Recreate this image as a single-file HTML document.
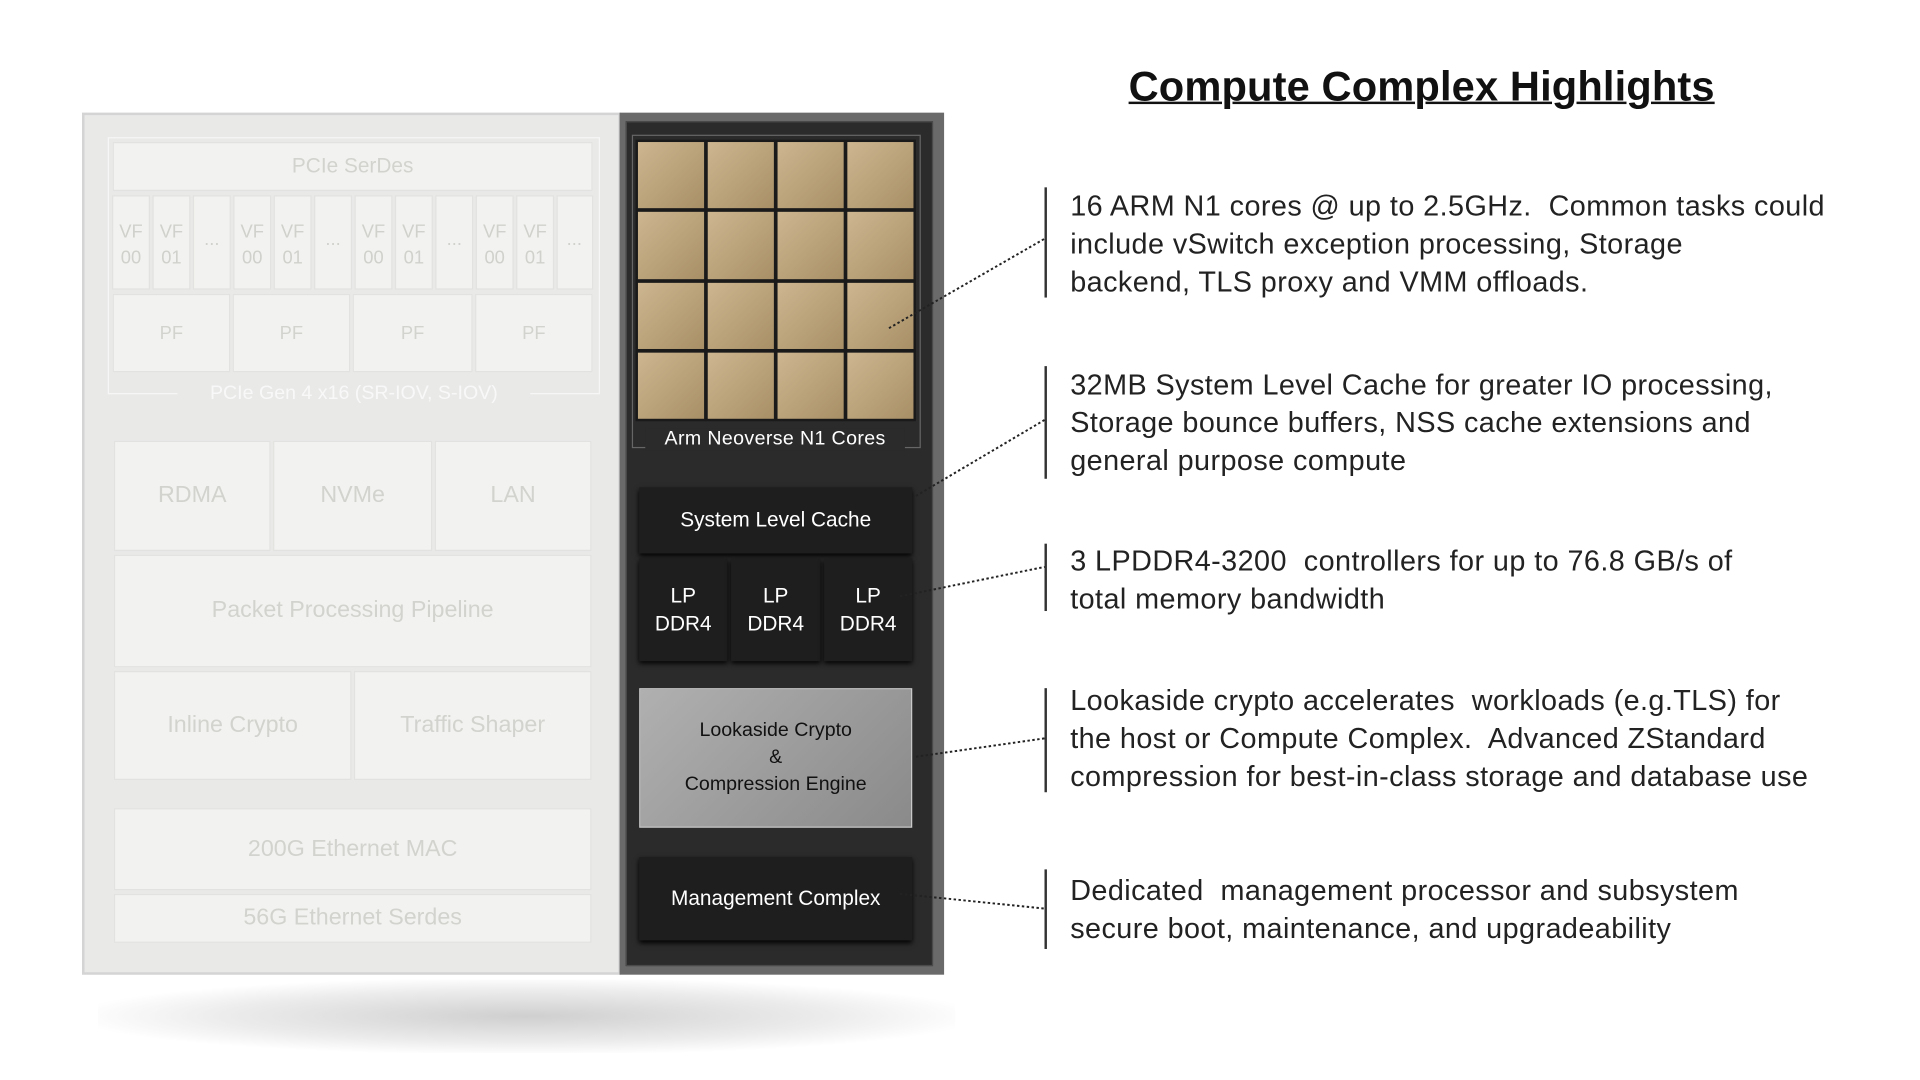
<!DOCTYPE html>
<html><head><style>
html,body{margin:0;padding:0;background:#fff;width:1920px;height:1080px;overflow:hidden}
#s{position:absolute;left:0;top:0;width:1568px;height:882px;transform:scale(1.22449);transform-origin:0 0;font-family:"Liberation Sans",sans-serif}
.a{position:absolute;box-sizing:border-box}
.f{background:#f2f2f0;color:#d2d2ce;display:flex;align-items:center;justify-content:center;text-align:center;font-size:19px;border:1px solid #e2e2e0}
.d{background:#1e1e1e;color:#fff;display:flex;align-items:center;justify-content:center;text-align:center;font-size:17px;box-shadow:0 2px 4px #000}
.t{position:absolute;left:874px;font-size:23.5px;line-height:31px;color:#222;letter-spacing:0.35px;white-space:nowrap}
.v{position:absolute;left:853px;width:1.5px;background:#333}
.g{background:linear-gradient(135deg,#cdb690,#a88f66);}
</style></head><body><div id="s">
<div class="a" style="left:80px;top:800px;width:700px;height:60px;background:radial-gradient(ellipse at center,#cfcfcf 0%,#ececec 50%,#fff 75%)"></div>
<div class="a" style="left:67px;top:92px;width:440px;height:704px;background:#e9e9e8;border:2px solid #d4d4d4"></div>
<div class="a" style="left:88px;top:112px;width:402px;height:210px;border:1px solid #f6f6f6"></div>
<div class="a f" style="left:92px;top:116px;width:392px;height:40px;font-size:17px">PCIe SerDes</div>
<div class="a f" style="left:92px;top:240px;width:96px;height:64px;font-size:15px">PF</div>
<div class="a f" style="left:190px;top:240px;width:96px;height:64px;font-size:15px">PF</div>
<div class="a f" style="left:288px;top:240px;width:98px;height:64px;font-size:15px">PF</div>
<div class="a f" style="left:388px;top:240px;width:96px;height:64px;font-size:15px">PF</div>
<div class="a" style="left:145px;top:313px;width:288px;text-align:center;background:#e9e9e8;color:#f8f8f8;font-size:16px">PCIe Gen 4 x16 (SR-IOV, S-IOV)</div>
<div class="a f" style="left:93px;top:360px;width:128px;height:90px">RDMA</div>
<div class="a f" style="left:223px;top:360px;width:130px;height:90px">NVMe</div>
<div class="a f" style="left:355px;top:360px;width:128px;height:90px">LAN</div>
<div class="a f" style="left:93px;top:453px;width:390px;height:92px">Packet Processing Pipeline</div>
<div class="a f" style="left:93px;top:548px;width:194px;height:89px">Inline Crypto</div>
<div class="a f" style="left:289px;top:548px;width:194px;height:89px">Traffic Shaper</div>
<div class="a f" style="left:93px;top:660px;width:390px;height:67px">200G Ethernet MAC</div>
<div class="a f" style="left:93px;top:730px;width:390px;height:40px">56G Ethernet Serdes</div>

<div class="a" style="left:506px;top:92px;width:265px;height:704px;background:#6a6a6a"></div>
<div class="a" style="left:511px;top:99px;width:251px;height:690px;background:#2b2b2b;border:1px solid #4a4a4a"></div>
<div class="a" style="left:516px;top:110px;width:236px;height:256px;border:1px solid #666"></div>
<div class="a" style="left:519px;top:114px;width:229px;height:230px;display:grid;grid-template-columns:repeat(4,1fr);gap:3px;background:#1a1a1a;padding:2px;box-sizing:border-box">
<div class="g"></div><div class="g"></div><div class="g"></div><div class="g"></div>
<div class="g"></div><div class="g"></div><div class="g"></div><div class="g"></div>
<div class="g"></div><div class="g"></div><div class="g"></div><div class="g"></div>
<div class="g"></div><div class="g"></div><div class="g"></div><div class="g"></div>
</div>
<div class="a" style="left:527px;top:350px;width:212px;text-align:center;background:#2b2b2b;color:#fff;font-size:16px;letter-spacing:0.3px">Arm Neoverse N1 Cores</div>
<div class="a d" style="left:522px;top:398px;width:223px;height:54px">System Level Cache</div>
<div class="a d" style="left:522px;top:456px;width:72px;height:84px;line-height:23px">LP<br>DDR4</div>
<div class="a d" style="left:597px;top:456px;width:73px;height:84px;line-height:23px">LP<br>DDR4</div>
<div class="a d" style="left:673px;top:456px;width:72px;height:84px;line-height:23px">LP<br>DDR4</div>
<div class="a" style="left:522px;top:562px;width:223px;height:114px;background:linear-gradient(135deg,#b0b0b0,#8a8a8a);color:#111;display:flex;align-items:center;justify-content:center;text-align:center;font-size:16px;line-height:22px;border:1px solid #ccc">Lookaside Crypto<br>&amp;<br>Compression Engine</div>
<div class="a d" style="left:522px;top:700px;width:223px;height:68px">Management Complex</div>

<div class="a" style="left:919px;top:52px;width:484px;text-align:center;font-size:34px;font-weight:bold;color:#111;text-decoration:underline;letter-spacing:0.1px;text-decoration-thickness:2px;white-space:nowrap">Compute Complex Highlights</div>

<div class="v" style="top:153px;height:90px"></div>
<div class="t" style="top:153px">16 ARM N1 cores @ up to 2.5GHz.&nbsp; Common tasks could<br>include vSwitch exception processing, Storage<br>backend, TLS proxy and VMM offloads.</div>
<div class="v" style="top:299px;height:92px"></div>
<div class="t" style="top:299px">32MB System Level Cache for greater IO processing,<br>Storage bounce buffers, NSS cache extensions and<br>general purpose compute</div>
<div class="v" style="top:444px;height:55px"></div>
<div class="t" style="top:443px">3 LPDDR4-3200&nbsp; controllers for up to 76.8 GB/s of<br>total memory bandwidth</div>
<div class="v" style="top:562px;height:85px"></div>
<div class="t" style="top:557px">Lookaside crypto accelerates&nbsp; workloads (e.g.TLS) for<br>the host or Compute Complex.&nbsp; Advanced ZStandard<br>compression for best-in-class storage and database use</div>
<div class="v" style="top:710px;height:65px"></div>
<div class="t" style="top:712px">Dedicated&nbsp; management processor and subsystem<br>secure boot, maintenance, and upgradeability</div>

<svg class="a" style="left:0;top:0" width="1568" height="882">
<g stroke="#222" stroke-width="1.6" stroke-dasharray="2 2" fill="none">
<line x1="726" y1="268" x2="853" y2="195"/>
<line x1="748" y1="405" x2="853" y2="343"/>
<line x1="735" y1="487" x2="853" y2="463"/>
<line x1="748" y1="618" x2="853" y2="603"/>
<line x1="735" y1="730" x2="853" y2="742"/>
</g>
<g fill="#f2f2f0" stroke="#e2e2e0">
<rect x="92" y="160" width="30" height="76"/><rect x="125" y="160" width="30" height="76"/><rect x="158" y="160" width="30" height="76"/>
<rect x="191" y="160" width="30" height="76"/><rect x="224" y="160" width="30" height="76"/><rect x="257" y="160" width="30" height="76"/>
<rect x="290" y="160" width="30" height="76"/><rect x="323" y="160" width="30" height="76"/><rect x="356" y="160" width="30" height="76"/>
<rect x="389" y="160" width="30" height="76"/><rect x="422" y="160" width="30" height="76"/><rect x="455" y="160" width="29" height="76"/>
</g>
<g fill="#d0d0cc" font-size="15" font-family="Liberation Sans" text-anchor="middle">
<text x="107" y="194">VF</text><text x="107" y="215">00</text><text x="140" y="194">VF</text><text x="140" y="215">01</text><text x="173" y="200">...</text>
<text x="206" y="194">VF</text><text x="206" y="215">00</text><text x="239" y="194">VF</text><text x="239" y="215">01</text><text x="272" y="200">...</text>
<text x="305" y="194">VF</text><text x="305" y="215">00</text><text x="338" y="194">VF</text><text x="338" y="215">01</text><text x="371" y="200">...</text>
<text x="404" y="194">VF</text><text x="404" y="215">00</text><text x="437" y="194">VF</text><text x="437" y="215">01</text><text x="469" y="200">...</text>
</g>
</svg>
</div></body></html>
